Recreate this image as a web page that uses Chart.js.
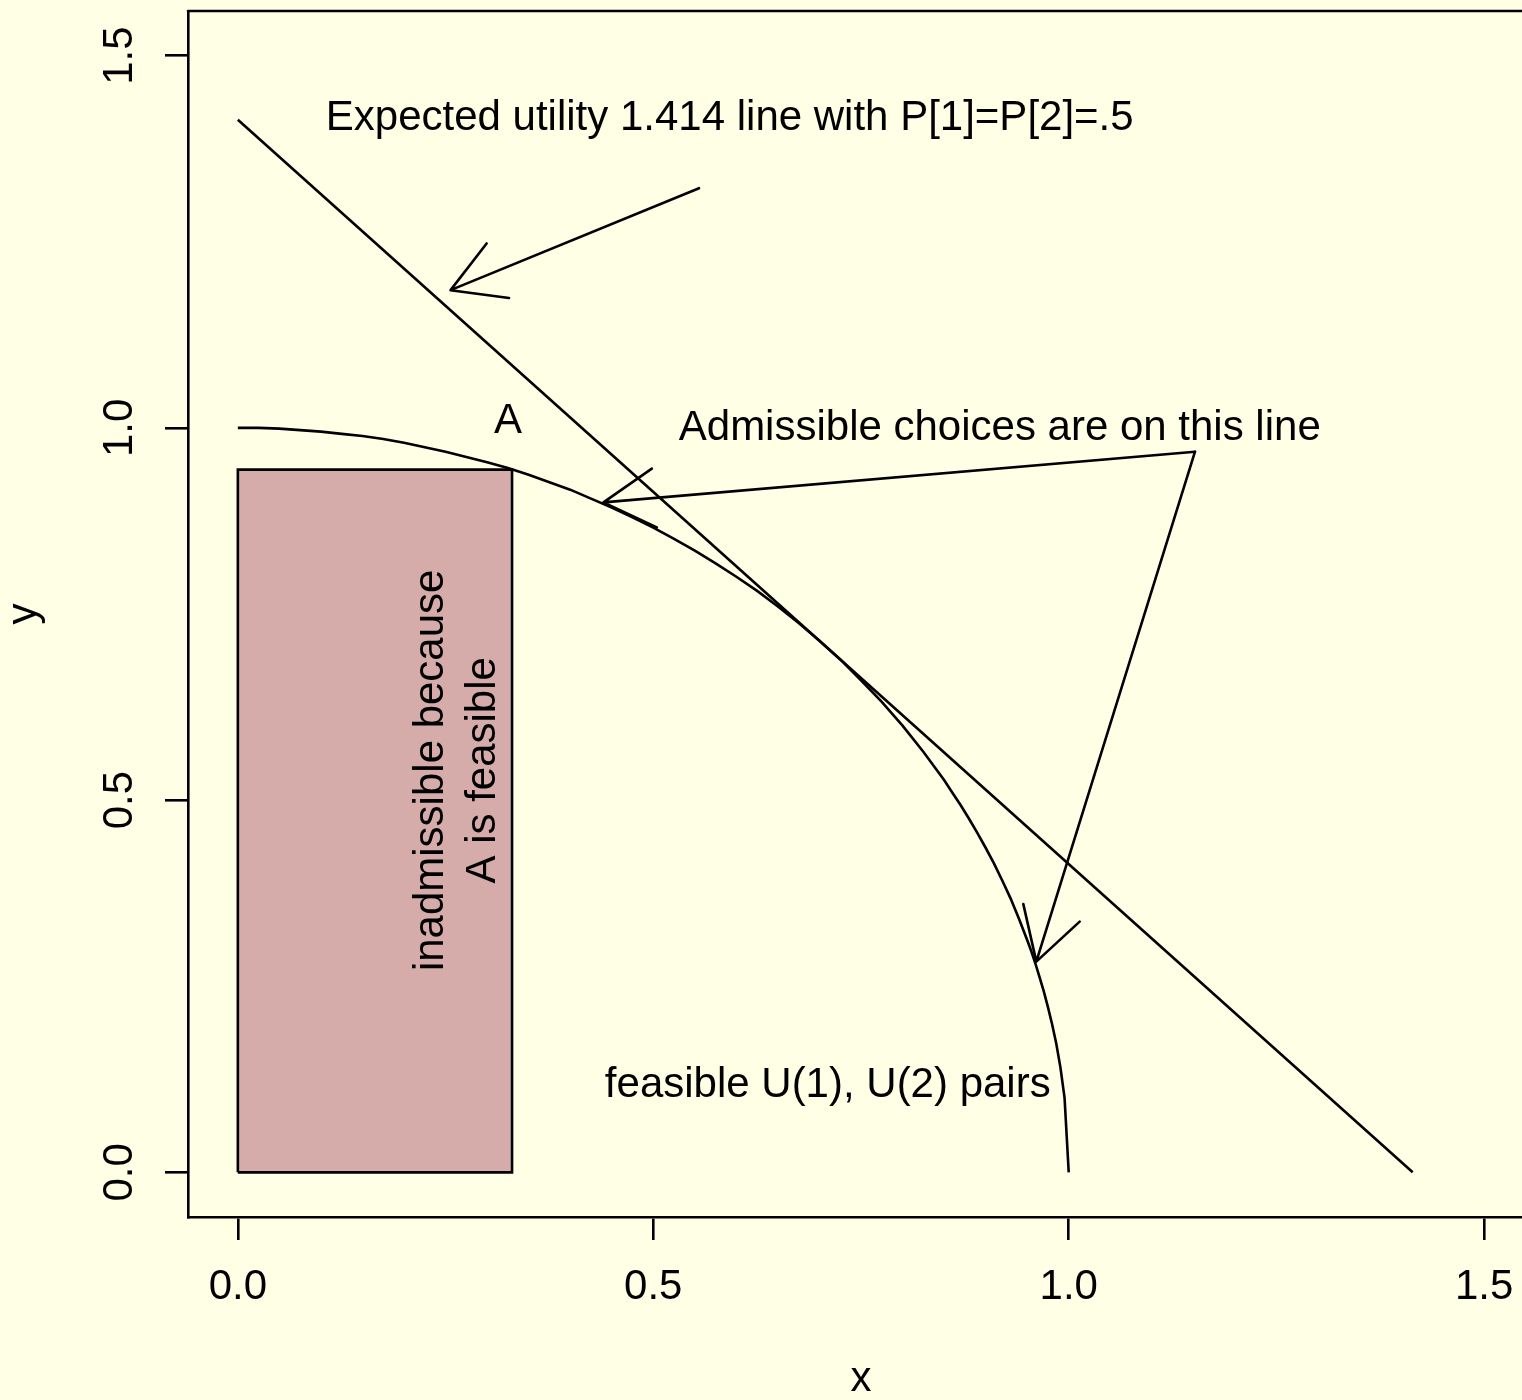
<!DOCTYPE html>
<html>
<head>
<meta charset="utf-8">
<script src="https://cdn.jsdelivr.net/npm/chart.js@4.4.1/dist/chart.umd.min.js"></script>
<style>
  html, body { margin: 0; padding: 0; background: #FFFFE5; overflow: hidden; }
  #wrap { width: 1522px; height: 1400px; overflow: hidden; }
  canvas { display: block; }
</style>
</head>
<body>
<div id="wrap"><canvas id="plot" width="1534" height="1400"></canvas></div>
<script>
// ── Data ───────────────────────────────────────────────────────────────
const xTicks = [0, 0.5, 1, 1.5];
const yTicks = [0, 0.5, 1, 1.5];

// feasible frontier (quarter circle)
const curveX = [0, 0.025, 0.05, 0.075, 0.1, 0.125, 0.15, 0.175, 0.2, 0.225, 0.25, 0.275, 0.3, 0.325,
                0.35, 0.375, 0.4, 0.425, 0.45, 0.475, 0.5, 0.525, 0.55, 0.575, 0.6, 0.625, 0.65, 0.675,
                0.7, 0.725, 0.75, 0.775, 0.8, 0.825, 0.85, 0.86, 0.87, 0.88, 0.89, 0.9, 0.91, 0.92,
                0.93, 0.94, 0.95, 0.955, 0.96, 0.965, 0.97, 0.975, 0.98, 0.985, 0.99, 0.995, 1];
const curveY = [1, 1, 0.999, 0.997, 0.995, 0.992, 0.989, 0.985, 0.98, 0.974, 0.968, 0.961, 0.954, 0.946,
                0.937, 0.927, 0.917, 0.905, 0.893, 0.88, 0.866, 0.851, 0.835, 0.818, 0.8, 0.781, 0.76, 0.738,
                0.714, 0.689, 0.661, 0.632, 0.6, 0.565, 0.527, 0.51, 0.493, 0.475, 0.456, 0.436, 0.415, 0.392,
                0.368, 0.341, 0.312, 0.297, 0.28, 0.262, 0.243, 0.222, 0.199, 0.173, 0.141, 0.1, 0];

// expected utility line x + y = 1.414
const lineX = [0, 1.414];
const lineY = [1.414, 0];

// inadmissible rectangle
const boxX = [0, 0, 0.33, 0.33, 0];
const boxY = [0, 0.944, 0.944, 0, 0];

// arrows: tail (x0,y0) -> head (x1,y1)
const arrowX0 = [0.555, 1.152, 1.152];
const arrowY0 = [1.322, 0.968, 0.968];
const arrowX1 = [0.256, 0.44, 0.961];
const arrowY1 = [1.185, 0.9, 0.283];

// annotations
const noteText = ['Expected utility 1.414 line with P[1]=P[2]=.5', 'A', 'Admissible choices are on this line',
                  'feasible U(1), U(2) pairs', 'inadmissible because', 'A is feasible'];
const noteX = [0.592, 0.325, 0.917, 0.71, 0.2288, 0.2908];
const noteY = [1.421, 1.013, 1.004, 0.121, 0.54, 0.54];
const noteRot = [0, 0, 0, 0, 90, 90];

// ── Style ──────────────────────────────────────────────────────────────
const FONT = '"Liberation Sans", Arial, Helvetica, sans-serif';
const FS = 42;
const LW = 2.6;
const HEAD = 59;
const BG = '#FFFFE5';
const RECT_FILL = '#D5ACAA';

const pts = (xs, ys) => xs.map((x, i) => ({ x: x, y: ys[i] }));

const overlay = {
    id: 'overlay',
    beforeDraw(chart) {
        const ctx = chart.ctx;
        ctx.save();
        ctx.fillStyle = BG;
        ctx.fillRect(0, 0, chart.width, chart.height);
        ctx.restore();
    },
    beforeDatasetsDraw(chart) {
        // fill of the inadmissible rectangle, under the outlines
        const { ctx, scales: { x, y } } = chart;
        ctx.save();
        ctx.fillStyle = RECT_FILL;
        ctx.beginPath();
        boxX.forEach((bx, i) => {
            const px = x.getPixelForValue(bx), py = y.getPixelForValue(boxY[i]);
            if (i === 0) ctx.moveTo(px, py); else ctx.lineTo(px, py);
        });
        ctx.closePath();
        ctx.fill();
        ctx.restore();
    },
    afterDatasetsDraw(chart) {
        const { ctx, chartArea: a, scales: { x, y } } = chart;
        ctx.save();
        ctx.strokeStyle = '#000';
        ctx.lineWidth = LW;
        ctx.lineCap = 'round';

        // top and right edges of the plot box
        ctx.beginPath();
        ctx.moveTo(a.left, a.top);
        ctx.lineTo(a.right, a.top);
        ctx.lineTo(a.right, a.bottom);
        ctx.stroke();

        // arrows
        for (let i = 0; i < arrowX0.length; i++) {
            const px0 = x.getPixelForValue(arrowX0[i]), py0 = y.getPixelForValue(arrowY0[i]);
            const px1 = x.getPixelForValue(arrowX1[i]), py1 = y.getPixelForValue(arrowY1[i]);
            const ang = Math.atan2(py0 - py1, px0 - px1);
            ctx.beginPath();
            ctx.moveTo(px0, py0);
            ctx.lineTo(px1, py1);
            [-1, 1].forEach(s => {
                const a2 = ang + s * Math.PI / 6;
                ctx.moveTo(px1 + HEAD * Math.cos(a2), py1 + HEAD * Math.sin(a2));
                ctx.lineTo(px1, py1);
            });
            ctx.stroke();
        }

        // text notes, anchored at cap-height middle
        ctx.fillStyle = '#000';
        ctx.font = FS + 'px ' + FONT;
        ctx.textAlign = 'center';
        ctx.textBaseline = 'alphabetic';
        noteText.forEach((t, i) => {
            ctx.save();
            ctx.translate(x.getPixelForValue(noteX[i]), y.getPixelForValue(noteY[i]));
            ctx.rotate(-noteRot[i] * Math.PI / 180);
            ctx.fillText(t, 0, FS * 0.358);
            ctx.restore();
        });
        ctx.restore();
    }
};

const axisCommon = {
    type: 'linear',
    min: -0.06,
    max: 1.56,
    border: { display: true, color: '#000', width: LW },
    grid: { drawOnChartArea: false, drawTicks: true, tickLength: 23, color: '#000', lineWidth: LW },
    title: { display: true, color: '#000', font: { family: FONT, size: FS, lineHeight: 1 } }
};

new Chart(document.getElementById('plot').getContext('2d'), {
    type: 'scatter',
    data: {
        datasets: [
            { data: pts(curveX, curveY), showLine: true, borderColor: '#000', borderWidth: LW,
              pointRadius: 0, tension: 0, fill: false, order: 1 },
            { data: pts(lineX, lineY), showLine: true, borderColor: '#000', borderWidth: LW,
              pointRadius: 0, tension: 0, fill: false, order: 1 },
            { data: pts(boxX, boxY), showLine: true, borderColor: '#000', borderWidth: LW,
              pointRadius: 0, tension: 0, fill: false, order: 3 }
        ]
    },
    options: {
        responsive: false,
        devicePixelRatio: 1,
        animation: false,
        events: [],
        layout: { padding: { top: 11, left: 0, right: 0, bottom: 0 } },
        plugins: { legend: { display: false }, tooltip: { enabled: false } },
        scales: {
            x: Object.assign({}, axisCommon, {
                position: 'bottom',
                title: Object.assign({}, axisCommon.title, { text: 'x', padding: { top: 0, bottom: 0 } }),
                ticks: { color: '#000', font: { family: FONT, size: FS }, padding: 22, maxRotation: 0,
                         callback: v => v.toFixed(1) },
                afterBuildTicks: s => { s.ticks = xTicks.map(v => ({ value: v })); },
                afterFit: s => { s.height = 183; s.paddingLeft = 0; s.paddingRight = 0; }
            }),
            y: Object.assign({}, axisCommon, {
                position: 'left',
                title: Object.assign({}, axisCommon.title, { text: 'y', padding: { top: 3, bottom: 0 } }),
                ticks: { color: '#000', font: { family: FONT, size: FS }, padding: 15,
                         minRotation: 90, maxRotation: 90, crossAlign: 'center',
                         callback: v => v.toFixed(1) },
                afterBuildTicks: s => { s.ticks = yTicks.map(v => ({ value: v })); },
                afterFit: s => { s.width = 188; s.paddingTop = 0; s.paddingBottom = 0; }
            })
        }
    },
    plugins: [overlay]
});
</script>
</body>
</html>
